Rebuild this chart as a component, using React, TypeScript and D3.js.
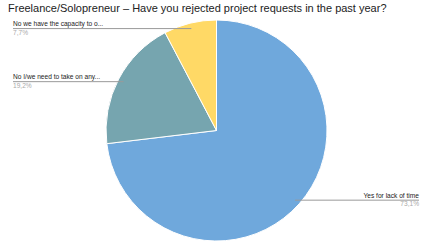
import React from "react";
import * as d3 from "d3";

const categories = ["Yes for lack of time", "No I/we need to take on any...", "No we have the capacity to o..."];
const values = [73.1, 19.2, 7.7];
const percentLabels = ["73,1%", "19,2%", "7,7%"];
const colors = ["#6fa8dc", "#76a5af", "#ffd966"];

const W = 433, H = 243;
const cx = 216.5, cy = 130.5, R = 110.5;

export default function App() {
  const pie = d3.pie<number>().sort(null).value((d) => d)(values);
  const arc = d3.arc<d3.PieArcDatum<number>>().innerRadius(0).outerRadius(R);
  const font = "'Liberation Sans', Arial, sans-serif";
  return (
    <svg width={W} height={H} style={{ position: "absolute", left: 0, top: 0, background: "#fff" }}>
      <text x={8} y={12} fontFamily={font} fontSize={11} fill="#222">
        Freelance/Solopreneur – Have you rejected project requests in the past year?
      </text>
      <g transform={`translate(${cx},${cy})`}>
        {pie.map((p, i) => (
          <path key={i} d={arc(p) || ""} fill={colors[i]} stroke="#fff" strokeWidth={1} />
        ))}
      </g>
      {pie.map((p, i) => {
        const mid = (p.startAngle + p.endAngle) / 2;
        const r = R * 0.95;
        const px = cx + r * Math.sin(mid);
        const py = cy - r * Math.cos(mid);
        const right = Math.sin(mid) > 0;
        const ex = right ? 419 : 13;
        return (
          <g key={"l" + i}>
            <line x1={px} y1={py} x2={ex} y2={py} stroke="#999" strokeWidth={1} />
            <text x={ex} y={py - 2.5} textAnchor={right ? "end" : "start"} fontFamily={font} fontSize={6.6} fill="#222">
              {categories[i]}
            </text>
            <text x={ex} y={py + 6} textAnchor={right ? "end" : "start"} fontFamily={font} fontSize={6.6} fill="#aaa">
              {percentLabels[i]}
            </text>
          </g>
        );
      })}
    </svg>
  );
}
